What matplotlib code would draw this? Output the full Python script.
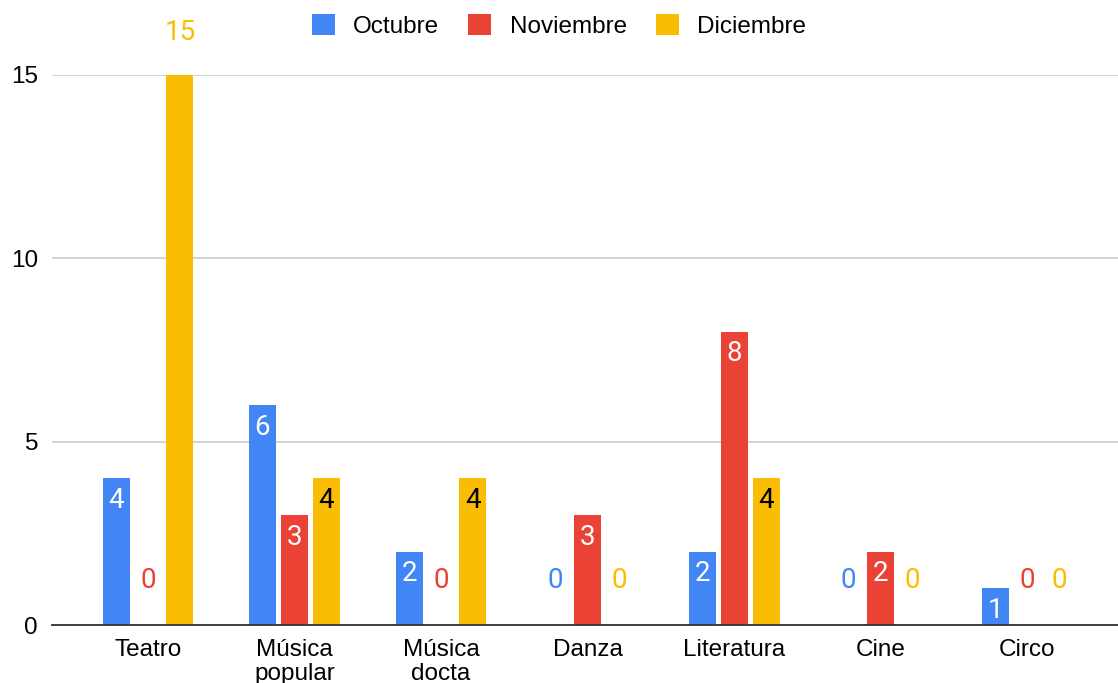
import numpy as np
import matplotlib
matplotlib.use("Agg")
import matplotlib.pyplot as plt
from matplotlib.patches import Patch

# ====== Datos ======
categorias = ["Teatro", "Música\npopular", "Música\ndocta", "Danza", "Literatura", "Cine", "Circo"]
meses = ["Octubre", "Noviembre", "Diciembre"]
octubre = [4, 6, 2, 0, 2, 0, 1]
noviembre = [0, 3, 0, 3, 8, 2, 0]
diciembre = [15, 4, 4, 0, 4, 0, 0]

colores = ["#4285F4", "#EA4335", "#FBBC04"]
color_texto = ["white", "white", "black"]

plt.rcParams["font.family"] = ["Liberation Sans", "DejaVu Sans"]

fig = plt.figure(figsize=(11.18, 6.83), dpi=100)
ax = fig.add_axes([0.0465, 0.0849, 0.9535, 0.8053])

x = np.arange(len(categorias))
ancho = 0.184
paso = 0.218
series = [octubre, noviembre, diciembre]

# barras y etiquetas de valor
for i, valores in enumerate(series):
    pos = x + (i - 1) * paso
    ax.bar(pos, valores, width=ancho, color=colores[i], zorder=3)
    for px, v in zip(pos, valores):
        if v == 0:
            ax.text(px, 1.22, "0", ha="center", va="center", color=colores[i],
                    fontsize=20, family="Roboto", zorder=4)
        elif v >= 15:
            ax.text(px, v + 1.17, str(v), ha="center", va="center", color=colores[i],
                    fontsize=20, family="Roboto", clip_on=False, zorder=4)
        else:
            ax.text(px, v - 0.6, str(v), ha="center", va="center", color=color_texto[i],
                    fontsize=20, family="Roboto", zorder=4)

ax.set_xlim(-0.655, 6.62)
ax.set_ylim(0, 15)
ax.set_yticks([0, 5, 10, 15])
ax.set_xticks(x)
ax.set_xticklabels(categorias, fontsize=17.5, linespacing=1.1)
ax.tick_params(axis="y", labelsize=17.5, length=0, pad=10)
ax.tick_params(axis="x", length=0, pad=10)
ax.grid(axis="y", color="#cccccc", linewidth=1.2, zorder=0)
for lado in ["top", "right", "left"]:
    ax.spines[lado].set_visible(False)
ax.spines["bottom"].set_color("#333333")
ax.spines["bottom"].set_linewidth(1.3)
ax.spines["bottom"].set_zorder(5)

handles = [Patch(facecolor=c, edgecolor="none", label=m) for c, m in zip(colores, meses)]
fig.legend(handles=handles, loc="upper center", bbox_to_anchor=(0.5, 1.012), ncol=3,
           frameon=False, fontsize=17.5, handlelength=0.95, handleheight=0.95,
           handletextpad=0.75, columnspacing=1.2)

fig.savefig("out.png", dpi=100)
